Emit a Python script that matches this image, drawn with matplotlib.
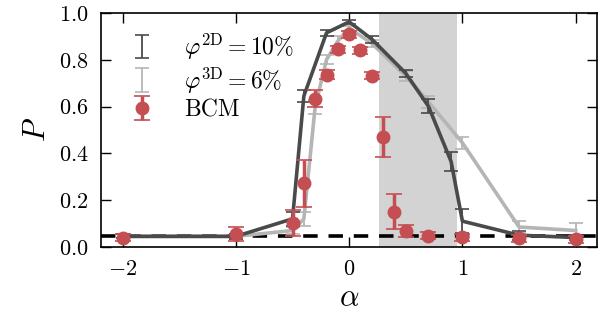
import matplotlib
matplotlib.use('Agg')
import matplotlib.pyplot as plt
import numpy as np

plt.rcParams['font.family'] = 'serif'
plt.rcParams['font.serif'] = ['cmr10', 'DejaVu Serif']
plt.rcParams['mathtext.fontset'] = 'cm'
plt.rcParams['axes.formatter.use_mathtext'] = True
plt.rcParams['axes.unicode_minus'] = True

# 2D simulation (dark gray)
a_2d = [-2, -1, -0.5, -0.4, -0.2, 0, 0.2, 0.5, 0.7, 0.9, 1.0, 1.5, 2]
p_2d = [0.045, 0.045, 0.12, 0.645, 0.915, 0.962, 0.888, 0.742, 0.601, 0.365, 0.11, 0.05, 0.04]
e_2d = [0.008, 0.01, 0.03, 0.025, 0.012, 0.01, 0.015, 0.015, 0.03, 0.04, 0.05, 0.02, 0.01]

# 3D simulation (light gray)
a_3d = [-2, -1, -0.5, -0.4, -0.3, -0.2, -0.1, 0, 0.2, 0.5, 0.7, 1.0, 1.5, 2]
p_3d = [0.045, 0.045, 0.07, 0.12, 0.6, 0.8, 0.88, 0.935, 0.87, 0.73, 0.62, 0.445, 0.085, 0.07]
e_3d = [0.008, 0.01, 0.015, 0.03, 0.03, 0.02, 0.02, 0.01, 0.015, 0.02, 0.025, 0.025, 0.025, 0.03]

# BCM model (red points)
a_bcm = [-2, -1, -0.5, -0.4, -0.3, -0.2, -0.1, 0, 0.1, 0.2, 0.3, 0.4, 0.5, 0.7, 1.0, 1.5, 2]
p_bcm = [0.04, 0.055, 0.103, 0.271, 0.634, 0.736, 0.844, 0.909, 0.841, 0.732, 0.469, 0.15, 0.068, 0.047, 0.041, 0.037, 0.033]
e_bcm = [0.015, 0.03, 0.055, 0.1, 0.035, 0.02, 0.015, 0.015, 0.015, 0.015, 0.085, 0.075, 0.025, 0.015, 0.015, 0.015, 0.015]

shade = (0.26, 0.95)
baseline = 0.045

dark = '#4a4a4a'
light = '#b5b5b5'
red = '#c44e52'

fig = plt.figure(figsize=(6.02, 3.24), dpi=100)
ax = fig.add_axes([0.168, 0.238, 0.824, 0.722])

ax.axvspan(shade[0], shade[1], color='#d3d3d3', lw=0, zorder=0)
ax.axhline(baseline, color='black', lw=2.6, ls=(0, (4, 3)), zorder=1)

ax.plot(a_3d, p_3d, color=light, lw=2.6, zorder=2)
ax.errorbar(a_3d, p_3d, yerr=e_3d, fmt='none', ecolor=light, elinewidth=1.3,
            capsize=5, capthick=1.2, zorder=2, label=r'$\varphi^{\rm 3D} = 6\%$')
ax.plot(a_2d, p_2d, color=dark, lw=2.6, zorder=3)
ax.errorbar(a_2d, p_2d, yerr=e_2d, fmt='none', ecolor=dark, elinewidth=1.3,
            capsize=5, capthick=1.2, zorder=3, label=r'$\varphi^{\rm 2D} = 10\%$')
ax.errorbar(a_bcm, p_bcm, yerr=e_bcm, fmt='o', color=red, ms=9, elinewidth=2.5,
            capsize=6, capthick=1.2, zorder=4, label='BCM')

ax.set_xlim(-2.19, 2.19)
ax.set_ylim(0, 1.0)
ax.set_xticks([-2, -1, 0, 1, 2])
ax.set_yticks([0, 0.2, 0.4, 0.6, 0.8, 1.0])
ax.tick_params(direction='in', top=True, right=True, length=7, width=1, labelsize=16, pad=9)
ax.set_xlabel(r'$\alpha$', fontsize=22, labelpad=4)
ax.set_ylabel(r'$P$', fontsize=22, labelpad=6)
for s in ax.spines.values():
    s.set_linewidth(1.2)

h, l = ax.get_legend_handles_labels()
order = [1, 0, 2]
leg = ax.legend([h[i] for i in order], [l[i] for i in order], loc='upper left',
                frameon=False, fontsize=17, handlelength=1.0, labelspacing=0.15,
                borderaxespad=0.5, handletextpad=1.3, borderpad=0.3,
                bbox_to_anchor=(0.02, 1.0))
for lh in leg.legend_handles[:2]:
    for art in lh.get_children():
        art.set_linewidth(2.8)

fig.savefig('out.png', dpi=100)
